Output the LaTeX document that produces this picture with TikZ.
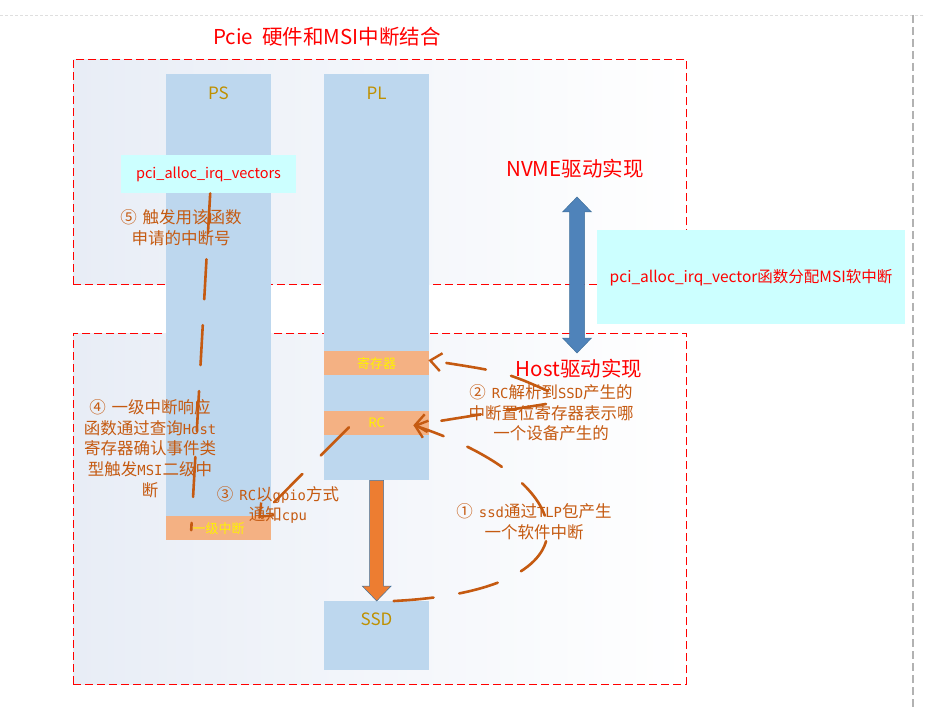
\documentclass[tikz,border=0pt]{standalone}
\usepackage{fontspec}
\setmainfont{Noto Sans CJK SC}
\newfontfamily\lmono{DejaVu Sans Mono}[Scale=0.84]
\newcommand\lm[1]{{\lmono #1}}
\newcommand\cgap{\hspace{6pt}}
\usetikzlibrary{arrows.meta,calc}
\definecolor{colblue}{HTML}{BDD7EE}
\definecolor{barorange}{HTML}{F4B183}
\definecolor{goldtxt}{HTML}{BF9000}
\definecolor{cyanfill}{HTML}{CCFFFF}
\definecolor{lblc}{HTML}{C55A11}
\definecolor{regbg}{HTML}{E8EDF6}
\definecolor{arrorange}{HTML}{ED7D31}
\definecolor{arrblue}{HTML}{4F83BA}
\definecolor{arrborder}{HTML}{41719C}
\tikzset{
  regionbox/.style={draw=red, line width=0.9pt, dash pattern=on 8pt off 4pt, left color=regbg, right color=white, inner sep=0pt, anchor=north west},
  colbox/.style={fill=colblue, draw=none, inner sep=0pt, anchor=north west, minimum width=105pt},
  barbox/.style={fill=barorange, draw=none, inner sep=0pt, anchor=north west, minimum width=105pt, minimum height=24pt, text=yellow, font=\fontsize{13}{15}\selectfont},
  coltext/.style={text=goldtxt, font=\fontsize{17}{20}\selectfont},
  cyanbox/.style={fill=cyanfill, draw=none, inner sep=0pt, anchor=north west, text=red},
  lbl/.style={text=lblc, align=center, inner sep=0pt, font=\fontsize{16.5}{20.7}\selectfont},
  redtitle/.style={text=red, font=\fontsize{20.5}{24}\selectfont},
  odash/.style={draw=lblc, line width=2.6pt, line cap=round, dash pattern=on 40pt off 26pt},
  otip/.style={-{Straight Barb[length=11pt,width=18pt,line width=2.4pt]}}
}
\begin{document}
\begin{tikzpicture}[x=1pt,y=-1pt]
\useasboundingbox (0,0) rectangle (925,708);
\fill[white] (0,0) rectangle (925,708);
% page guides
\draw[gray!25, line width=0.8pt, dash pattern=on 3pt off 2pt] (0,15) -- (925,15);
\draw[gray!60, line width=1.2pt, dash pattern=on 8pt off 4pt] (913,15) -- (913,708);

% regions
\node[regionbox, minimum width=613pt, minimum height=225pt] (topreg) at (73,59) {};
\node[regionbox, minimum width=613pt, minimum height=351pt] (botreg) at (73,333) {};

% title
\node[redtitle] (title) at (327,37) {Pcie\hspace{9pt}硬件和MSI中断结合};

% columns
\node[colbox, minimum height=466pt] (pscol) at (166,74) {};
\node[colbox, minimum height=406pt] (plcol) at (324,74) {};
\node[coltext] (pstext) at (218.5,93) {PS};
\node[coltext] (pltext) at (376.5,93) {PL};

% bars
\node[barbox] (reg) at (324,351) {寄存器};
\node[barbox] (rc) at (324,411) {RC};
\node[barbox] (irq1) at (166,516) {一级中断};

% SSD
\node[colbox, minimum height=69pt] (ssd) at (324,601) {};
\node[coltext] (ssdtext) at (376.5,619) {SSD};

% alloc box
\node[cyanbox, minimum width=175pt, minimum height=38pt] (allocbox) at (121,155) {};
\node[text=red, font=\fontsize{14.5}{17}\selectfont] (alloctext) at (208.5,174) {pci\_alloc\_irq\_vectors};

% cyan side box
\node[cyanbox, minimum width=308pt, minimum height=94pt] (sidebox) at (597,230) {};
\node[text=red, font=\fontsize{15.5}{18}\selectfont] (sidetext) at (751,278) {pci\_alloc\_irq\_vector函数分配MSI软中断};

% driver titles
\node[redtitle] (nvme) at (575,169) {NVME驱动实现};
\node[redtitle] (host) at (579,369) {Host驱动实现};

% blue double arrow
\coordinate (nvtop) at (577,197);
\coordinate (nvbot) at (577,353);
\filldraw[fill=arrblue, draw=arrborder, line width=0.5pt]
  (nvtop) -- ($(nvtop)+(14.5,15)$) -- ($(nvtop)+(7.5,15)$) -- ($(nvbot)+(7.5,-15)$) -- ($(nvbot)+(14.5,-15)$)
  -- (nvbot) -- ($(nvbot)+(-14.5,-15)$) -- ($(nvbot)+(-7.5,-15)$) -- ($(nvtop)+(-7.5,15)$) -- ($(nvtop)+(-14.5,15)$) -- cycle;

% orange arrow PL -> SSD
\filldraw[fill=arrorange, draw=arrborder, line width=0.5pt]
  ($(plcol.south)+(-7,0)$) -- ($(plcol.south)+(7,0)$) -- ($(ssd.north)+(7,-15)$) -- ($(ssd.north)+(14.5,-15)$)
  -- (ssd.north) -- ($(ssd.north)+(-14.5,-15)$) -- ($(ssd.north)+(-7,-15)$) -- cycle;

% labels
\node[lbl] (l5) at (181,228) {⑤\cgap 触发用该函数\\申请的中断号};
\node[lbl] (l4) at (150,448.5) {④\cgap 一级中断响应\\函数通过查询\lm{Host}\\寄存器确认事件类\\型触发\lm{MSI}二级中\\断};
\node[lbl] (l3) at (278,505) {③\cgap \lm{RC}以\lm{gpio}方式\\通知\lm{cpu}};
\node[lbl] (l2) at (551,413) {②\cgap \lm{RC}解析到\lm{SSD}产生的\\中断置位寄存器表示哪\\一个设备产生的};
\node[lbl] (l1) at (534,522) {①\cgap \lm{ssd}通过\lm{TLP}包产生\\一个软件中断};

% connectors
\coordinate (c2a) at (548,391);
\coordinate (c2b) at (546,404);
\draw[odash] ($(allocbox.south)+(1.5,0)$) -- ($(irq1.center)+(-27.5,2)$);
\draw[odash, otip] ($(rc.west)+(25,4)$) -- ($(irq1.north east)+(-13,2)$);
\draw[odash, otip] ($(ssd.north)+(17,0)$) .. controls (610,590) and (580,480) .. ($(rc.east)+(-16,2)$);
\draw[odash, otip] (c2a) .. controls (505,372) .. ($(reg.east)+(-1,-3)$);
\draw[odash, otip] (c2b) -- ($(rc.east)+(-16,2)$);
\end{tikzpicture}
\end{document}
